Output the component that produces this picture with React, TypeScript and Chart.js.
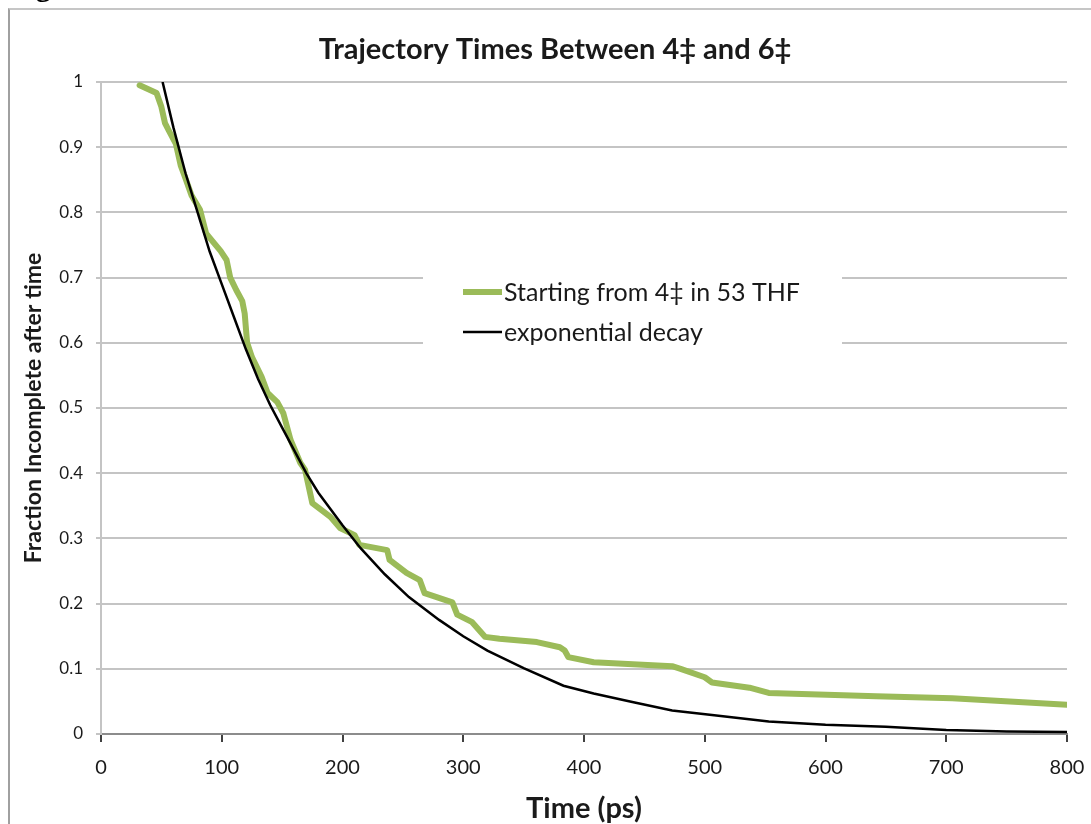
import React, { useEffect, useRef } from 'react';
import { Chart, registerables } from 'chart.js';

Chart.register(...registerables);

const figureLabel = 'Figure 5';
const chartTitle = 'Trajectory Times Between 4‡ and 6‡';
const xAxisTitle = 'Time (ps)';
const yAxisTitle = 'Fraction Incomplete after time';
const seriesNames = ['Starting from 4‡ in 53 THF', 'exponential decay'];

const xTickValues = [0, 100, 200, 300, 400, 500, 600, 700, 800];
const xTickLabels = ['0', '100', '200', '300', '400', '500', '600', '700', '800'];
const yTickValues = [0, 0.1, 0.2, 0.3, 0.4, 0.5, 0.6, 0.7, 0.8, 0.9, 1];
const yTickLabels = ['0', '0.1', '0.2', '0.3', '0.4', '0.5', '0.6', '0.7', '0.8', '0.9', '1'];

// Green series: trajectories starting from 4‡ in 53 THF
const trajTimes = [
  32, 46, 50, 53, 56, 62, 66, 70, 75, 82, 87, 94, 99, 104, 107, 112, 117, 119, 121, 125,
  133, 138, 146, 151, 157, 165, 169, 175, 190, 198, 210, 214, 237, 239, 253, 264, 268, 291, 295, 307,
  318, 330, 361, 380, 384, 387, 408, 473, 480, 500, 506, 537, 553, 642, 705, 800,
];
const trajFractions = [
  0.995, 0.983, 0.962, 0.937, 0.926, 0.905, 0.872, 0.852, 0.826, 0.804, 0.768, 0.752, 0.741, 0.727, 0.7, 0.681, 0.664, 0.645, 0.6, 0.578,
  0.548, 0.523, 0.509, 0.492, 0.451, 0.416, 0.405, 0.354, 0.333, 0.316, 0.305, 0.29, 0.282, 0.267, 0.247, 0.236, 0.216, 0.202, 0.183, 0.172,
  0.149, 0.146, 0.141, 0.133, 0.128, 0.118, 0.11, 0.104, 0.1, 0.087, 0.079, 0.071, 0.063, 0.058, 0.055, 0.045,
];

// Black series: exponential decay
const decayTimes = [
  51, 60, 70, 80, 90, 100, 110, 120, 130, 140, 150, 160, 170, 180, 190, 200, 215, 235, 255, 280,
  300, 320, 350, 383, 408, 440, 473, 506, 553, 600, 650, 700, 750, 800,
];
const decayFractions = [
  1.0, 0.93, 0.86, 0.80, 0.74, 0.69, 0.64, 0.59, 0.545, 0.505, 0.47, 0.435, 0.40, 0.37, 0.345, 0.32, 0.285, 0.245, 0.21, 0.175,
  0.15, 0.128, 0.101, 0.074, 0.062, 0.049, 0.036, 0.029, 0.019, 0.014, 0.011, 0.006, 0.004, 0.003,
];

const GREEN = '#9bbb59';
const TEXT = '#1a1a1a';
const FONT = 'Lato';

const insetLegend = {
  id: 'insetLegend',
  afterDraw(chart: any) {
    const ctx = chart.ctx;
    ctx.save();
    ctx.fillStyle = '#ffffff';
    ctx.fillRect(413, 240, 419, 135);
    const rows = [
      { y: 282, color: GREEN, width: 6 },
      { y: 322, color: '#000000', width: 2.5 },
    ];
    chart.data.datasets.forEach((ds: any, i: number) => {
      const r = rows[i];
      ctx.beginPath();
      ctx.strokeStyle = r.color;
      ctx.lineWidth = r.width;
      ctx.lineCap = 'butt';
      ctx.moveTo(453, r.y);
      ctx.lineTo(492, r.y);
      ctx.stroke();
      ctx.fillStyle = TEXT;
      ctx.font = `25px ${FONT}`;
      ctx.textAlign = 'left';
      ctx.textBaseline = 'middle';
      ctx.fillText(ds.label, 494, r.y + 1);
    });
    ctx.restore();
  },
};

export default function App() {
  const canvasRef = useRef<HTMLCanvasElement | null>(null);

  useEffect(() => {
    const canvas = canvasRef.current;
    if (!canvas) return;
    const chart = new Chart(canvas, {
      type: 'line',
      data: {
        datasets: [
          {
            label: seriesNames[0],
            data: trajTimes.map((t, i) => ({ x: t, y: trajFractions[i] })),
            borderColor: GREEN,
            backgroundColor: GREEN,
            borderWidth: 6,
            pointRadius: 0,
            tension: 0,
            fill: false,
            borderCapStyle: 'round',
            borderJoinStyle: 'round',
            order: 2,
          },
          {
            label: seriesNames[1],
            data: decayTimes.map((t, i) => ({ x: t, y: decayFractions[i] })),
            borderColor: '#000000',
            backgroundColor: '#000000',
            borderWidth: 2.5,
            pointRadius: 0,
            tension: 0,
            fill: false,
            order: 1,
          },
        ],
      },
      options: {
        animation: false,
        responsive: false,
        devicePixelRatio: 1,
        layout: { padding: 0 },
        plugins: {
          legend: { display: false },
          tooltip: { enabled: false },
          title: {
            display: true,
            text: chartTitle,
            color: TEXT,
            font: { family: FONT, size: 29, weight: 'bold' },
            padding: { top: 22, bottom: 15.2 },
          },
        },
        scales: {
          x: {
            type: 'linear',
            position: 'bottom',
            min: 0,
            max: 800,
            afterBuildTicks: (s: any) => {
              s.ticks = xTickValues.map((v) => ({ value: v }));
            },
            afterFit: (s: any) => {
              s.height = 106;
              s.paddingRight = 33;
            },
            ticks: {
              autoSkip: false,
              maxRotation: 0,
              padding: 14,
              color: TEXT,
              font: { family: FONT, size: 20 },
              callback: (_v: any, i: number) => xTickLabels[i],
            },
            grid: {
              drawOnChartArea: false,
              drawTicks: true,
              tickLength: 8,
              color: '#404040',
              lineWidth: 2,
            },
            border: { color: '#8c8c8c', width: 2 },
            title: {
              display: true,
              text: xAxisTitle,
              color: TEXT,
              font: { family: FONT, size: 29, weight: 'bold' },
              padding: { top: 0, bottom: 14 },
            },
          },
          y: {
            type: 'linear',
            min: 0,
            max: 1,
            afterBuildTicks: (s: any) => {
              s.ticks = yTickValues.map((v) => ({ value: v }));
            },
            afterFit: (s: any) => {
              s.width = 91;
            },
            ticks: {
              autoSkip: false,
              padding: 13,
              color: TEXT,
              font: { family: FONT, size: 17 },
              callback: (_v: any, i: number) => yTickLabels[i],
            },
            grid: {
              color: '#c4c4c4',
              lineWidth: 2,
              drawTicks: true,
              tickLength: 5,
            },
            border: { color: '#c4c4c4', width: 2 },
            title: {
              display: true,
              text: yAxisTitle,
              color: TEXT,
              font: { family: FONT, size: 23, weight: 'bold' },
              padding: { top: 10, bottom: 0 },
            },
          },
        },
      },
      plugins: [insetLegend],
    } as any);
    return () => chart.destroy();
  }, []);

  return (
    <div>
      <div
        style={{
          position: 'fixed',
          left: 9,
          top: -29,
          fontFamily: '"Liberation Serif", serif',
          fontWeight: 'bold',
          fontSize: 30,
          lineHeight: '30px',
          color: '#000',
          whiteSpace: 'nowrap',
        }}
      >
        {figureLabel}
      </div>
      <div
        style={{
          position: 'fixed',
          left: 8,
          top: 8,
          width: 1083,
          height: 816,
          overflow: 'hidden',
          boxSizing: 'border-box',
          borderTop: '2px solid #c6c6c6',
          borderLeft: '2px solid #a0a0a0',
          background: '#ffffff',
        }}
      >
        <canvas
          ref={canvasRef}
          width={1090}
          height={830}
          style={{ display: 'block', width: 1090, height: 830 }}
        />
      </div>
    </div>
  );
}
